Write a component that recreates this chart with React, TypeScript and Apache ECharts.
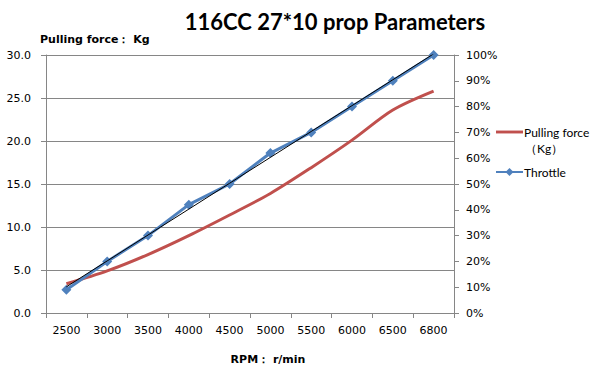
import React, { useEffect, useRef } from "react";
import * as echarts from "echarts";

const categories = ["2500", "3000", "3500", "4000", "4500", "5000", "5500", "6000", "6500", "6800"];
const pullingForce = [3.4, 4.9, 6.8, 9.0, 11.4, 13.9, 16.9, 20.1, 23.6, 25.8];
const throttle = [9, 20, 30, 42, 50, 62, 70, 80, 90, 100];
const leftTicks = { min: 0, max: 30, interval: 5 };
const rightTicks = { min: 0, max: 100, interval: 10 };

function linearTrend(ys: number[]): number[] {
  const n = ys.length;
  const mx = (n - 1) / 2;
  const my = ys.reduce((a, b) => a + b, 0) / n;
  let sxy = 0, sxx = 0;
  ys.forEach((y, i) => { sxy += (i - mx) * (y - my); sxx += (i - mx) * (i - mx); });
  const slope = sxy / sxx;
  const b = my - slope * mx;
  return ys.map((_, i) => b + slope * i);
}

export default function App() {
  const ref = useRef<HTMLDivElement>(null);
  useEffect(() => {
    if (!ref.current) return;
    const chart = echarts.init(ref.current, undefined, { renderer: "svg" });
    const axisFont = { fontFamily: "DejaVu Sans", fontSize: 11, color: "#000" };
    const trend = linearTrend(throttle);
    chart.setOption({
      animation: false,
      backgroundColor: "#fff",
      title: {
        text: "116CC 27*10 prop Parameters",
        left: 330,
        textAlign: "center",
        top: 5,
        textStyle: { fontFamily: "Lato", fontWeight: "bold", fontSize: 22, color: "#000" },
      },
      grid: { left: 46, right: 143, top: 55, bottom: 61 },
      legend: {
        orient: "vertical",
        left: 495,
        top: 126,
        padding: 0,
        itemWidth: 27,
        itemHeight: 10,
        itemGap: 28,
        data: [
          { name: "Pulling force", icon: "path://M0,0h28v3h-28z" },
          { name: "Throttle" },
        ],
        textStyle: { fontFamily: "Lato", fontSize: 12, color: "#000", padding: [0, 0, 0, -4] },
      },
      graphic: [
        { type: "text", left: 525, top: 142, style: { text: "（Kg）", fontFamily: "Lato", fontSize: 12, fill: "#000" } },
      ],
      xAxis: {
        type: "category",
        data: categories,
        boundaryGap: true,
        name: "RPM： r/min",
        nameLocation: "middle",
        nameGap: 41,
        nameTextStyle: { fontFamily: "DejaVu Sans", fontWeight: "bold", fontSize: 11, color: "#000", padding: [0, 0, 0, 36] },
        axisLine: { lineStyle: { color: "#868686", width: 1 } },
        axisTick: { show: true, length: 5, inside: false, lineStyle: { color: "#868686" } },
        axisLabel: { ...axisFont, margin: 12 },
      },
      yAxis: [
        {
          type: "value",
          ...leftTicks,
          name: "Pulling force： Kg",
          nameLocation: "end",
          nameGap: 10,
          nameTextStyle: { fontFamily: "DejaVu Sans", fontWeight: "bold", fontSize: 11, color: "#000", align: "left", padding: [0, 0, 0, -6] },
          axisLine: { show: true, lineStyle: { color: "#868686" } },
          axisTick: { show: true, length: 5, lineStyle: { color: "#868686" } },
          axisLabel: { ...axisFont, margin: 15, formatter: (v: number) => v.toFixed(1) },
          splitLine: { show: true, lineStyle: { color: "#868686", width: 1 } },
        },
        {
          type: "value",
          ...rightTicks,
          position: "right",
          axisLine: { show: true, lineStyle: { color: "#868686" } },
          axisTick: { show: true, length: 5, lineStyle: { color: "#868686" } },
          axisLabel: { ...axisFont, margin: 12, formatter: (v: number) => v + "%" },
          splitLine: { show: false },
        },
      ],
      series: [
        {
          name: "Pulling force",
          type: "line",
          yAxisIndex: 0,
          data: pullingForce,
          smooth: 0.3,
          symbol: "none",
          lineStyle: { color: "#C0504D", width: 3 },
          itemStyle: { color: "#C0504D" },
          z: 2,
        },
        {
          name: "Throttle",
          type: "line",
          yAxisIndex: 1,
          data: throttle,
          symbol: "diamond",
          symbolSize: 10,
          lineStyle: { color: "#4F81BD", width: 3 },
          itemStyle: { color: "#4F81BD" },
          z: 3,
        },
        {
          name: "Trend",
          type: "line",
          yAxisIndex: 1,
          data: trend,
          symbol: "none",
          lineStyle: { color: "#000", width: 1 },
          z: 4,
        },
      ],
    });
    return () => chart.dispose();
  }, []);
  return <div ref={ref} style={{ width: 597, height: 374, position: "absolute", left: 0, top: 0 }} />;
}
